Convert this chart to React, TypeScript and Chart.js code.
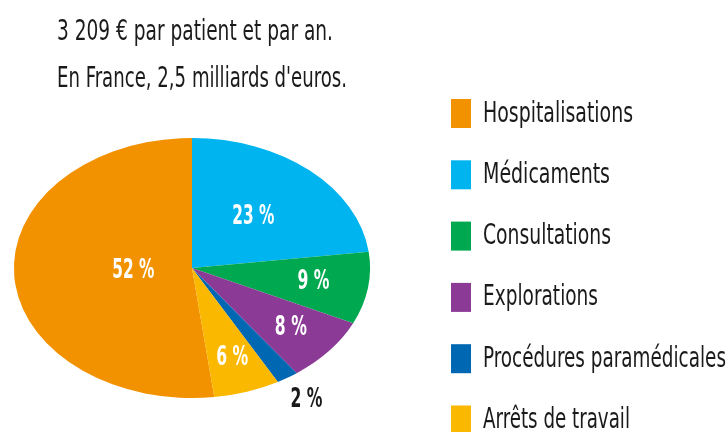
import React, { useEffect, useRef } from "react";
import { Chart, registerables } from "chart.js";

Chart.register(...registerables);

const categories = [
  "Hospitalisations",
  "Médicaments",
  "Consultations",
  "Explorations",
  "Procédures paramédicales",
  "Arrêts de travail",
];
const shares = [52, 23, 9, 8, 2, 6];
const shareLabels = ["52 %", "23 %", "9 %", "8 %", "2 %", "6 %"];
const titleLines = ["3 209 € par patient et par an.", "En France, 2,5 milliards d'euros."];

const colors = ["#F39200", "#00B5EF", "#00A94F", "#8B3A96", "#0067B3", "#FBB800"];
const labelRadial = [0.33, 0.52, 0.69, 0.72, 1.2, 0.73];
const labelColors = ["#fff", "#fff", "#fff", "#fff", "#1a1a1a", "#fff"];
const labelWidths = [42, 42, 32, 32, 32, 32];
const legendWidths = [150, 127, 128, 115, 243, 147];

const FONT = '"Liberation Sans Narrow", "DejaVu Sans Condensed", "Open Sans", sans-serif';
const X_STRETCH = 1.37;

const ellipsePlugin = {
  id: "ellipse",
  beforeDatasetsDraw(chart: any) {
    const a = chart.chartArea;
    const cx = (a.left + a.right) / 2;
    const cy = (a.top + a.bottom) / 2;
    const ctx = chart.ctx;
    ctx.save();
    ctx.translate(cx, cy);
    ctx.scale(X_STRETCH, 1);
    ctx.translate(-cx, -cy);
  },
  afterDatasetsDraw(chart: any) {
    chart.ctx.restore();
  },
};

const decorPlugin = {
  id: "decor",
  afterDraw(chart: any) {
    const ctx = chart.ctx;
    ctx.save();
    // title
    ctx.fillStyle = "#1a1a1a";
    ctx.textAlign = "left";
    ctx.textBaseline = "alphabetic";
    ctx.font = `29px ${FONT}`;
    ctx.fillText(titleLines[0], 57, 40, 276);
    ctx.fillText(titleLines[1], 57, 87, 290);

    // slice labels
    const meta = chart.getDatasetMeta(0);
    meta.data.forEach((arc: any, i: number) => {
      const p = arc.getProps(["x", "y", "startAngle", "endAngle", "outerRadius"], true);
      const mid = (p.startAngle + p.endAngle) / 2;
      const r = p.outerRadius * labelRadial[i];
      const x = p.x + Math.cos(mid) * r * X_STRETCH;
      const y = p.y + Math.sin(mid) * r;
      ctx.font = `bold 27px ${FONT}`;
      ctx.fillStyle = labelColors[i];
      ctx.textAlign = "center";
      ctx.textBaseline = "middle";
      ctx.fillText(shareLabels[i], x, y, labelWidths[i]);
    });

    // legend
    const x0 = 451;
    const y0 = 113.5;
    const step = 61.3;
    categories.forEach((c, i) => {
      const cyy = y0 + i * step;
      ctx.fillStyle = colors[i];
      ctx.fillRect(x0, cyy - 14.5, 20, 29);
      ctx.fillStyle = "#1a1a1a";
      ctx.textAlign = "left";
      ctx.textBaseline = "alphabetic";
      ctx.font = `29px ${FONT}`;
      const w = ctx.measureText(c).width;
      ctx.fillText(c, 483, cyy + 8, Math.min(w, legendWidths[i]));
    });
    ctx.restore();
  },
};

export default function App() {
  const ref = useRef<HTMLCanvasElement | null>(null);
  useEffect(() => {
    document.body.style.margin = "0";
    const total = shares.reduce((s, v) => s + v, 0);
    const rotation = (360 * (total - shares[0])) / total;
    const chart = new Chart(ref.current as HTMLCanvasElement, {
      type: "pie",
      data: {
        labels: categories,
        datasets: [
          {
            data: shares,
            backgroundColor: colors,
            borderWidth: 0,
            hoverOffset: 0,
          },
        ],
      },
      options: {
        responsive: true,
        maintainAspectRatio: false,
        animation: false,
        events: [],
        rotation,
        layout: { padding: { left: 62, top: 138, right: 406, bottom: 34 } },
        plugins: {
          legend: { display: false },
          tooltip: { enabled: false },
          title: { display: false },
        },
      },
      plugins: [ellipsePlugin, decorPlugin],
    });
    return () => chart.destroy();
  }, []);
  return (
    <div style={{ position: "fixed", left: 0, top: 0, width: 728, height: 432, background: "#fff" }}>
      <canvas ref={ref} />
    </div>
  );
}
